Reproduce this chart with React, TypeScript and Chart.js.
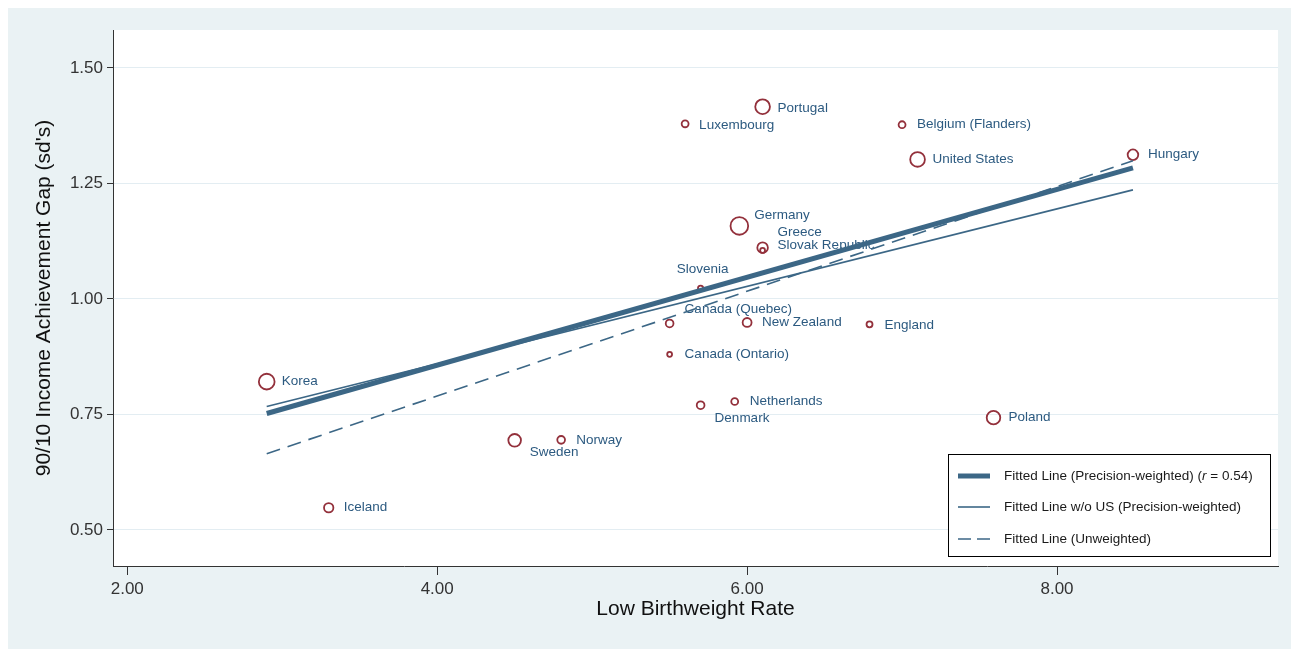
import React, { useEffect, useRef } from "react";
import { Chart, registerables } from "chart.js";

Chart.register(...registerables);

// ---------------- data ----------------
const countries = [
  "Korea", "Iceland", "Sweden", "Norway", "Luxembourg", "Portugal",
  "Belgium (Flanders)", "United States", "Hungary", "Germany", "Greece",
  "Slovak Republic", "Slovenia", "Canada (Quebec)", "New Zealand", "England",
  "Canada (Ontario)", "Denmark", "Netherlands", "Poland",
];
const lowBirthweightRate = [
  2.90, 3.30, 4.50, 4.80, 5.60, 6.10,
  7.00, 7.10, 8.49, 5.95, 6.10,
  6.10, 5.70, 5.50, 6.00, 6.79,
  5.50, 5.70, 5.92, 7.59,
];
const incomeGap = [
  0.821, 0.548, 0.694, 0.695, 1.379, 1.416,
  1.377, 1.302, 1.312, 1.158, 1.111,
  1.105, 1.023, 0.947, 0.949, 0.945,
  0.880, 0.770, 0.778, 0.743,
];
// relative precision weights (marker area)
const precisionWeight = [
  62, 22, 40, 15, 12, 54,
  12, 54, 28, 78, 28,
  6, 7, 15, 20, 9,
  6, 15, 12, 46,
];

const fitX = [2.90, 8.49];
const fitWeighted = [0.752, 1.2835];
const fitWithoutUS = [0.767, 1.236];
const fitUnweighted = [0.665, 1.299];

const xTicks = [2, 4, 6, 8];
const yTicks = [0.5, 0.75, 1.0, 1.25, 1.5];

const xTitle = "Low Birthweight Rate";
const yTitle = "90/10 Income Achievement Gap (sd's)";
const legendLabels = [
  "Fitted Line (Precision-weighted)",
  "Fitted Line w/o US (Precision-weighted)",
  "Fitted Line (Unweighted)",
];
const corrLabel = "0.54";

// ---------------- styles ----------------
const FONT = '"Liberation Sans", Arial, Helvetica, sans-serif';
const POINT_COLOR = "#93303b";
const LABEL_COLOR = "#2c5a80";
const LINE_COLOR = "#3c6786";
const OUTER_BG = "#eaf2f4";
const GRID_COLOR = "#e3edf2";
const AXIS_COLOR = "#333333";

const labelPlacement: Record<string, { dx: number; dy: number; align?: CanvasTextAlign }> = {
  Sweden: { dx: 15, dy: 12 },
  Germany: { dx: 15, dy: -11 },
  Greece: { dx: 15, dy: -15 },
  "Slovak Republic": { dx: 15, dy: -5 },
  Slovenia: { dx: 2, dy: -19, align: "center" },
  "Canada (Quebec)": { dx: 15, dy: -14 },
  Denmark: { dx: 14, dy: 13 },
  Luxembourg: { dx: 14, dy: 1.5 },
  Portugal: { dx: 15, dy: 1.5 },
  England: { dx: 15, dy: 1 },
};

const bgPlugin = {
  id: "bgPlugin",
  beforeDraw(chart: any) {
    const { ctx, chartArea: ca, width, height } = chart;
    ctx.save();
    ctx.fillStyle = OUTER_BG;
    ctx.fillRect(0, 0, width, height);
    ctx.fillStyle = "#ffffff";
    ctx.fillRect(ca.left, ca.top, ca.right - ca.left, ca.bottom - ca.top);
    ctx.restore();
  },
};

const labelsPlugin = {
  id: "labelsPlugin",
  afterDatasetDraw(chart: any, args: any) {
    if (args.index !== 0) return;
    const { ctx } = chart;
    const xs = chart.scales.x;
    const ys = chart.scales.y;
    ctx.save();
    ctx.font = `13.5px ${FONT}`;
    ctx.fillStyle = LABEL_COLOR;
    ctx.textBaseline = "middle";
    countries.forEach((name, i) => {
      const px = xs.getPixelForValue(lowBirthweightRate[i]);
      const py = ys.getPixelForValue(incomeGap[i]);
      const p = labelPlacement[name] || { dx: 15, dy: 0 };
      ctx.textAlign = p.align || "left";
      ctx.fillText(name, px + p.dx, py + p.dy);
    });
    ctx.restore();
  },
};

const decorPlugin = {
  id: "decorPlugin",
  afterDraw(chart: any) {
    const { ctx, chartArea: ca } = chart;
    ctx.save();
    // axis titles
    ctx.fillStyle = "#111111";
    ctx.font = `21px ${FONT}`;
    ctx.textAlign = "center";
    ctx.textBaseline = "middle";
    ctx.fillText(xTitle, (ca.left + ca.right) / 2, 601);
    ctx.save();
    ctx.translate(36, (ca.top + ca.bottom) / 2);
    ctx.rotate(-Math.PI / 2);
    ctx.fillText(yTitle, 0, 0);
    ctx.restore();

    // legend
    const right = ca.right - 7;
    const bottom = ca.bottom - 9;
    const left = right - 323;
    const top = bottom - 103;
    ctx.fillStyle = "#ffffff";
    ctx.fillRect(left, top, right - left, bottom - top);
    ctx.strokeStyle = "#000000";
    ctx.lineWidth = 1;
    ctx.strokeRect(left + 0.5, top + 0.5, right - left - 1, bottom - top - 1);

    const rows = [top + 22, top + 53, top + 85];
    const widths = [5, 1.6, 1.6];
    const dashes = [[], [], [13, 6]];
    rows.forEach((ry, i) => {
      ctx.beginPath();
      ctx.strokeStyle = LINE_COLOR;
      ctx.lineWidth = widths[i];
      ctx.setLineDash(dashes[i]);
      ctx.moveTo(left + 10, ry);
      ctx.lineTo(left + 42, ry);
      ctx.stroke();
    });
    ctx.setLineDash([]);
    ctx.fillStyle = "#1a1a1a";
    ctx.textAlign = "left";
    ctx.textBaseline = "middle";
    const tx = left + 56;
    ctx.font = `13.5px ${FONT}`;
    let s = legendLabels[0] + " (";
    ctx.fillText(s, tx, rows[0]);
    let w = ctx.measureText(s).width;
    ctx.font = `italic 13.5px ${FONT}`;
    ctx.fillText("r", tx + w, rows[0]);
    w += ctx.measureText("r").width;
    ctx.font = `13.5px ${FONT}`;
    ctx.fillText(" = " + corrLabel + ")", tx + w, rows[0]);
    ctx.fillText(legendLabels[1], tx, rows[1]);
    ctx.fillText(legendLabels[2], tx, rows[2]);
    ctx.restore();
  },
};

export default function App() {
  const ref = useRef<HTMLCanvasElement | null>(null);

  useEffect(() => {
    document.documentElement.style.overflow = "hidden";
    document.body.style.overflow = "hidden";
    if (!ref.current) return;
    const chart = new Chart(ref.current, {
      type: "scatter",
      data: {
        datasets: [
          {
            label: "Countries",
            data: lowBirthweightRate.map((x, i) => ({ x, y: incomeGap[i] })),
            pointRadius: precisionWeight.map((w) => Math.sqrt(w)),
            pointHoverRadius: precisionWeight.map((w) => Math.sqrt(w)),
            pointBackgroundColor: "rgba(0,0,0,0)",
            pointBorderColor: POINT_COLOR,
            pointBorderWidth: 1.8,
            showLine: false,
            order: 10,
          } as any,
          {
            label: legendLabels[0],
            data: fitX.map((x, i) => ({ x, y: fitWeighted[i] })),
            showLine: true,
            pointRadius: 0,
            borderColor: LINE_COLOR,
            borderWidth: 5,
            order: 1,
          },
          {
            label: legendLabels[1],
            data: fitX.map((x, i) => ({ x, y: fitWithoutUS[i] })),
            showLine: true,
            pointRadius: 0,
            borderColor: LINE_COLOR,
            borderWidth: 1.6,
            order: 2,
          },
          {
            label: legendLabels[2],
            data: fitX.map((x, i) => ({ x, y: fitUnweighted[i] })),
            showLine: true,
            pointRadius: 0,
            borderColor: LINE_COLOR,
            borderWidth: 1.6,
            borderDash: [14, 8],
            order: 3,
          },
        ],
      },
      options: {
        responsive: false,
        animation: false,
        layout: { padding: { top: 22, right: 21, left: 0, bottom: 0 } },
        plugins: {
          legend: { display: false },
          tooltip: { enabled: false },
        },
        scales: {
          x: {
            type: "linear",
            min: 1.908,
            max: 9.426,
            afterFit(scale: any) {
              scale.height = 83;
            },
            afterBuildTicks(scale: any) {
              scale.ticks = xTicks.map((v) => ({ value: v }));
            },
            ticks: {
              callback: (v: any) => Number(v).toFixed(2),
              color: AXIS_COLOR,
              font: { family: FONT, size: 17 },
              padding: 4,
              maxRotation: 0,
            },
            grid: {
              drawOnChartArea: false,
              tickLength: 9,
              tickColor: AXIS_COLOR,
              tickWidth: 1,
            },
            border: { display: true, color: AXIS_COLOR, width: 1 },
          },
          y: {
            type: "linear",
            min: 0.422,
            max: 1.582,
            afterFit(scale: any) {
              scale.width = 105;
            },
            afterBuildTicks(scale: any) {
              scale.ticks = yTicks.map((v) => ({ value: v }));
            },
            ticks: {
              callback: (v: any) => Number(v).toFixed(2),
              color: AXIS_COLOR,
              font: { family: FONT, size: 17 },
              padding: 4,
            },
            grid: {
              color: GRID_COLOR,
              lineWidth: 1,
              tickLength: 6,
              tickColor: AXIS_COLOR,
              tickWidth: 1,
            },
            border: { display: true, color: AXIS_COLOR, width: 1 },
          },
        },
      },
      plugins: [bgPlugin, labelsPlugin, decorPlugin],
    });
    return () => chart.destroy();
  }, []);

  return (
    <canvas
      ref={ref}
      width={1291}
      height={641}
      style={{ display: "block", width: 1291, height: 641 }}
    />
  );
}
